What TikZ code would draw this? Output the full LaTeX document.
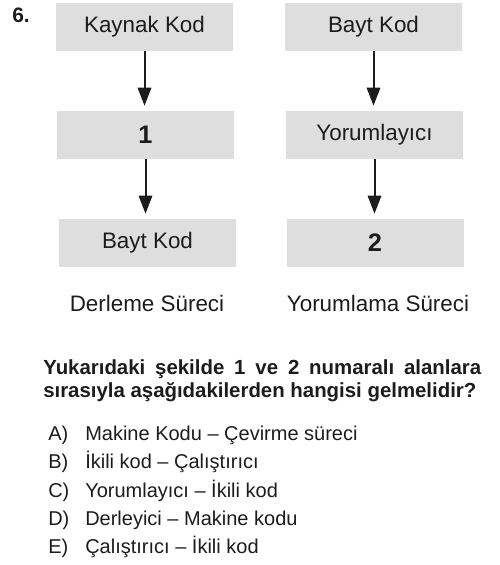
\documentclass[tikz,border=0pt]{standalone}
\usepackage{fontspec}
\setmainfont{Liberation Sans}
\usetikzlibrary{arrows.meta}
\definecolor{boxgray}{RGB}{222,222,222}
\definecolor{ink}{RGB}{28,28,28}
\tikzset{
  box/.style={fill=boxgray, draw=none, minimum width=132.75pt, minimum height=36pt, inner sep=0pt, text=ink, font=\fontsize{16.8}{20}\selectfont},
  num/.style={box, font=\fontsize{19}{22}\selectfont\bfseries},
  arr/.style={draw=ink, line width=1.5pt, -{Triangle[width=10pt,length=13.5pt]}, shorten >=3.75pt},
  caption/.style={text=ink, inner sep=0pt, font=\fontsize{16.8}{20}\selectfont},
  qline/.style={text=ink, inner sep=0pt, anchor=base west, font=\fontsize{15.3}{18}\selectfont\bfseries},
  opt/.style={text=ink, inner sep=0pt, anchor=base west, font=\fontsize{15}{18}\selectfont}
}
\begin{document}
\begin{tikzpicture}[x=0.75pt, y=-0.75pt]
\useasboundingbox (0,0) rectangle (500,565);
\node[text=ink, inner sep=0pt, anchor=base west, font=\fontsize{15.7}{18}\selectfont\bfseries] (qn) at (12,22) {6.};
% left column
\node[box] (k1) at (144.5,27) {Kaynak Kod};
\node[num] (k2) at (145.5,135) {1};
\node[box] (k3) at (147.5,243) {Bayt Kod};
\node[caption] (kc) at (147,303) {Derleme Süreci};
% right column
\node[box] (r1) at (373.5,27) {Bayt Kod};
\node[box] (r2) at (374.5,135) {Yorumlayıcı};
\node[num] (r3) at (375,243) {2};
\node[caption] (rc) at (378,303) {Yorumlama Süreci};
% arrows
\draw[arr] (k1.south) -- (k1.south |- k2.north);
\draw[arr] (k2.south) -- (k2.south |- k3.north);
\draw[arr] (r1.south) -- (r1.south |- r2.north);
\draw[arr] (r2.south) -- (r2.south |- r3.north);
% question
\node[qline] (q1) at (43,374) {\makebox[328.5pt][s]{Yukarıdaki şekilde 1 ve 2 numaralı alanlara}};
\node[qline] (q2) at (43,397) {sırasıyla aşağıdakilerden hangisi gelmelidir?};
% options
\node[opt] (oa) at (48,440) {A)};
\node[opt] (ta) at (85,440) {Makine Kodu – Çevirme süreci};
\node[opt] (ob) at (48,468) {B)};
\node[opt] (tb) at (85,468) {İkili kod – Çalıştırıcı};
\node[opt] (oc) at (48,497) {C)};
\node[opt] (tc) at (85,497) {Yorumlayıcı – İkili kod};
\node[opt] (od) at (48,525) {D)};
\node[opt] (td) at (85,525) {Derleyici – Makine kodu};
\node[opt] (oe) at (48,553) {E)};
\node[opt] (te) at (85,553) {Çalıştırıcı – İkili kod};
\end{tikzpicture}
\end{document}
